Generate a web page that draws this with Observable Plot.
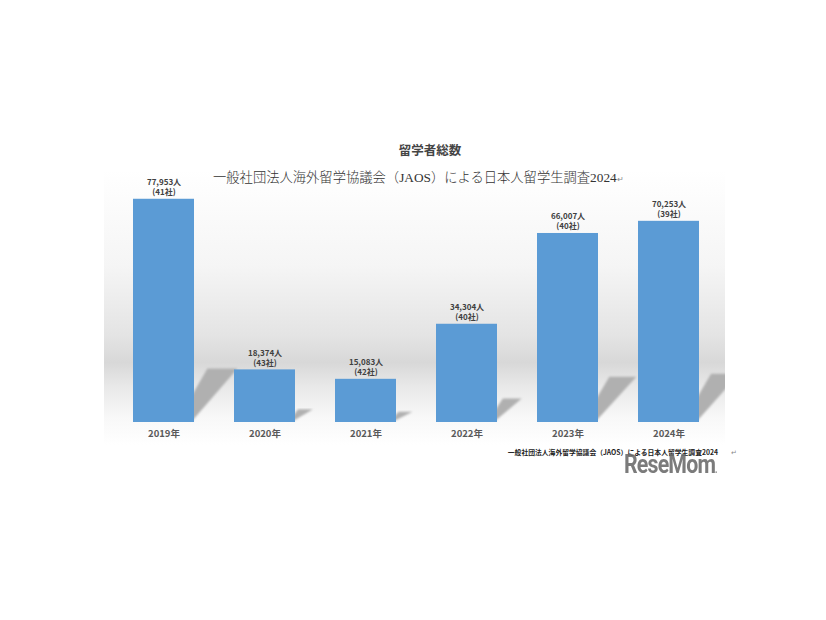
<!DOCTYPE html>
<html><head><meta charset="utf-8">
<script src="https://cdn.jsdelivr.net/npm/d3@7"></script>
<script src="https://cdn.jsdelivr.net/npm/@observablehq/plot@0.6"></script>
<style>
body{margin:0;background:#fff;font-family:"Noto Sans CJK JP","Noto Sans",sans-serif;}
#wrap{position:relative;width:826px;height:620px;overflow:hidden;background:#fff;}
#chart{position:absolute;left:0;top:160px;}
.t{position:absolute;white-space:nowrap;}
</style></head>
<body><div id="wrap">
<div id="chart"></div>
<div class="t" id="title" style="left:0;width:860px;text-align:center;top:141px;font-size:12.5px;font-weight:600;color:#444;line-height:18px;">留学者総数</div>
<div class="t" id="sub" style="left:213px;top:168px;font-size:13.3px;color:#333;line-height:20px;font-family:'Liberation Serif','Noto Sans CJK JP',serif;font-weight:300;">一般社団法人海外留学協議会（JAOS）による日本人留学生調査2024<span style="font-size:8px;color:#888;">↵</span></div>
<div class="t" id="foot" style="right:108px;top:446px;font-size:6.8px;font-weight:bold;color:#222;line-height:12px;">一般社団法人海外留学協議会（JAOS）による日本人留学生調査2024</div>
<div class="t" style="left:731px;top:446px;font-size:7px;color:#888;line-height:12px;">↵</div>
<div class="t" id="wm" style="left:624px;top:449px;font-size:26px;font-weight:bold;color:#6d6d6d;opacity:0.9;font-family:Roboto,'Liberation Sans',sans-serif;letter-spacing:-1px;transform:scaleX(0.82);transform-origin:left top;line-height:30px;">ReseMom<span style="font-size:10px;">.</span></div>
</div>
<script>
const years = ["2019年","2020年","2021年","2022年","2023年","2024年"];
const students = [77953, 18374, 15083, 34304, 66007, 70253];
const companies = [41, 43, 42, 40, 40, 39];

const data = years.map((y, i) => ({year: y, value: students[i], co: companies[i]}));
const fmt = d3.format(",");

const W = 826, H = 300, base = 262;
const chart = Plot.plot({
  width: W, height: H,
  marginLeft: 112.5, marginRight: 107.5, marginTop: 10, marginBottom: H - base,
  style: {background: "transparent", fontFamily: "'Noto Sans CJK JP','Noto Sans',sans-serif"},
  x: {domain: years, paddingInner: 0.4, paddingOuter: 0.2, label: null},
  y: {domain: [0, 88000], axis: null},
  marks: [
    Plot.axisX({tickSize: 0, tickPadding: 8, fontSize: 9.5, fontWeight: "bold", fill: "#595959"}),
    Plot.barY(data, {x: "year", y: "value", fill: "#5b9bd5"}),
    Plot.text(data, {x: "year", y: "value", text: d => `${fmt(d.value)}人\n(${d.co}社)`,
      lineAnchor: "bottom", dy: -4, fontSize: 8, fontWeight: "bold", fill: "#404040", lineHeight: 1.25})
  ]
});
document.getElementById("chart").appendChild(chart);

// background wall + shadows, placed behind the marks
const svg = d3.select(chart);
const defs = svg.insert("defs", ":first-child");
const g = defs.append("linearGradient").attr("id", "bgGrad").attr("x1", 0).attr("y1", 0).attr("x2", 0).attr("y2", 1);
[[0,"#ffffff"],[0.35,"#f5f5f5"],[0.6,"#e4e4e4"],[0.7,"#d8d8d8"],[0.79,"#e9e9e9"],[0.9,"#f8f8f8"],[1,"#ffffff"]]
  .forEach(([o,c]) => g.append("stop").attr("offset", o).attr("stop-color", c));
defs.append("clipPath").attr("id", "bgClip").append("rect").attr("x", 104).attr("y", 10).attr("width", 621).attr("height", 275);
defs.append("filter").attr("id", "blur").append("feGaussianBlur").attr("stdDeviation", 1);

const bgG = svg.insert("g", "defs + *").attr("clip-path", "url(#bgClip)");
bgG.append("rect").attr("x", 104).attr("y", 10).attr("width", 621).attr("height", 275).attr("fill", "url(#bgGrad)");

const xs = chart.scale("x"), ys = chart.scale("y");
const bw = xs.bandwidth;
data.forEach(d => {
  const xr = xs.apply(d.year) + bw;
  const yb = ys.apply(0), h = yb - ys.apply(d.value);
  const pts = [
    [xr - 2, yb - 0.12 * h],
    [xr + 0.06 * h, yb - 0.24 * h],
    [xr + 10 + 0.15 * h, yb - 0.24 * h],
    [xr - 2, yb - 1]
  ];
  bgG.append("polygon").attr("points", pts.map(p => p.join(",")).join(" "))
    .attr("fill", "#b0b0b0").attr("filter", "url(#blur)");
});
</script>
</body></html>
